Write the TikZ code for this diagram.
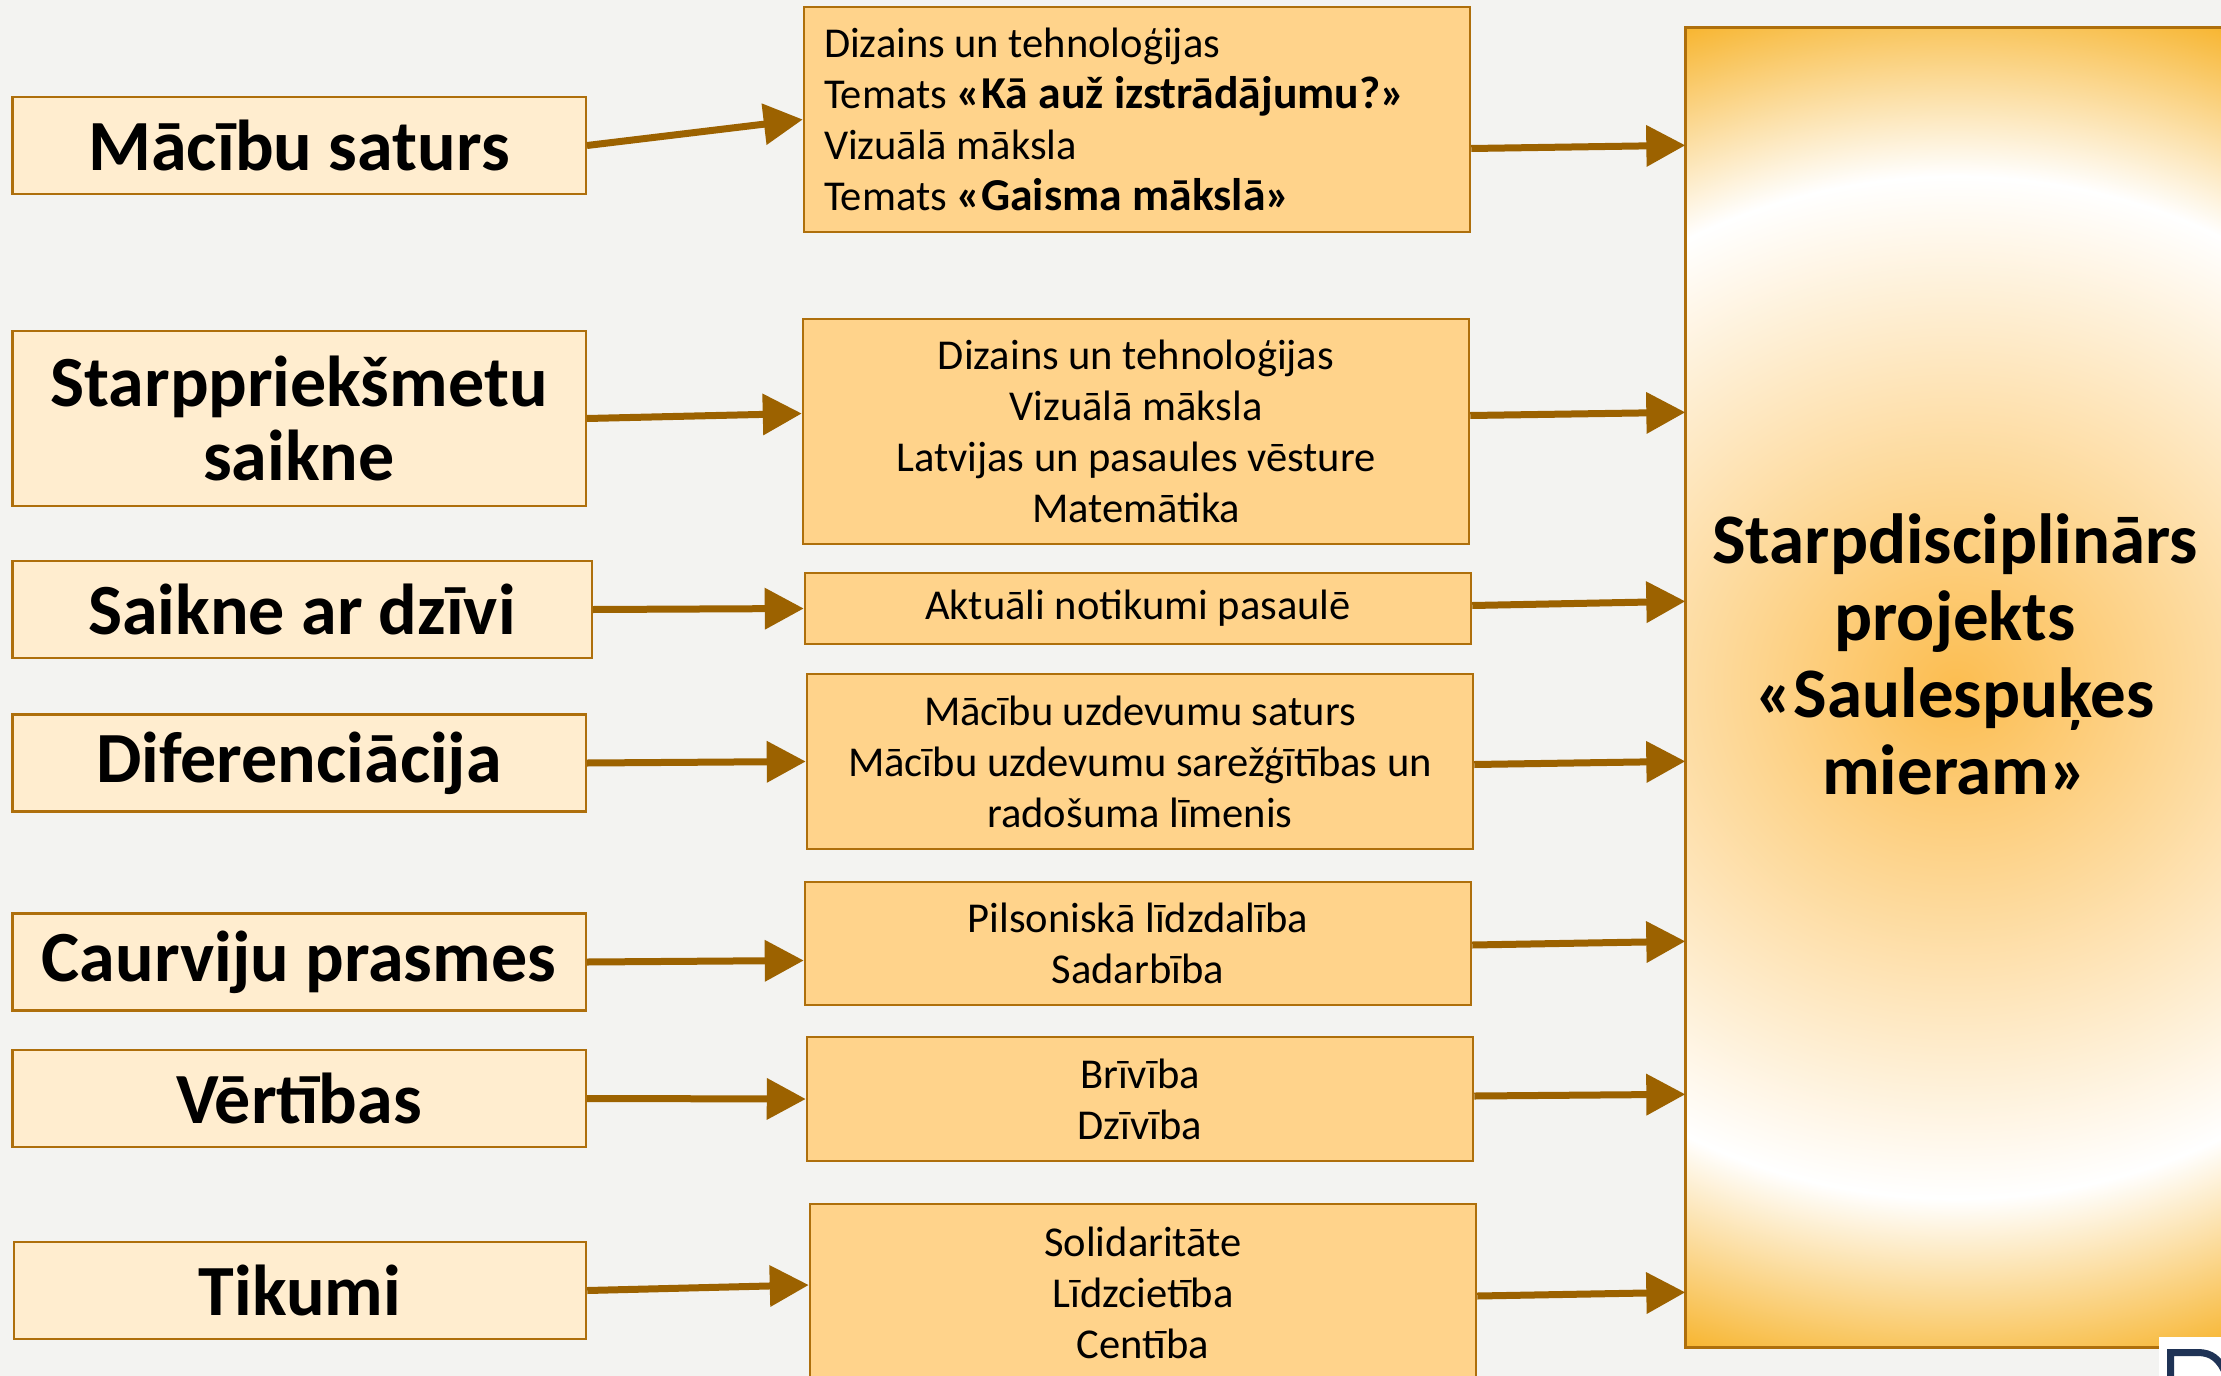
\documentclass[tikz,border=0pt]{standalone}
\usepackage{fontspec}
\setmainfont{Carlito}
\usetikzlibrary{arrows.meta,calc}
\definecolor{bg}{HTML}{F3F3F1}
\definecolor{lfill}{HTML}{FFEDCF}
\definecolor{mfill}{HTML}{FFD38B}
\definecolor{bord}{HTML}{AE6F0C}
\definecolor{arrc}{HTML}{9C6200}
\definecolor{gcen}{HTML}{FCBD50}
\definecolor{gout}{HTML}{F7B32A}
\definecolor{navy}{HTML}{1F3356}
\pgfdeclareradialshading{glow}{\pgfpoint{0bp}{0bp}}{color(0bp)=(gcen); color(18bp)=(white); color(25bp)=(gout); color(50bp)=(gout)}
\newcommand{\lblfont}{\fontsize{20.5pt}{21.3pt}\selectfont\bfseries}
\newcommand{\midfont}{\fontsize{12.1pt}{14.5pt}\selectfont}
\newcommand{\midbold}{\fontsize{13pt}{14.5pt}\selectfont\bfseries}
\newcommand{\bigfont}{\fontsize{20.2pt}{21.9pt}\selectfont\bfseries}
\begin{document}
\begin{tikzpicture}[x=0.1mm,y=-0.1mm,
  lbox/.style={draw=bord, line width=0.25mm, fill=lfill, minimum width=57.35mm, minimum height=9.7mm, inner sep=0pt, align=center, font=\lblfont},
  mbox/.style={draw=bord, line width=0.25mm, fill=mfill, minimum width=66.6mm, inner sep=0pt, align=center, font=\midfont},
  arr/.style={draw=arrc, line width=0.7mm, -{Triangle[length=3.9mm,width=4mm]}}]
\fill[bg] (0,0) rectangle (2221,1376);
\useasboundingbox (0,0) rectangle (2221,1376);
\clip (0,0) rectangle (2221,1376);

% big target box
\node[minimum width=54mm, minimum height=131.9mm, inner sep=0pt] (big) at (1956,687.5) {};
\begin{scope}
  \clip (big.south west) rectangle (big.north east);
  \shade[shading=glow] (1956,687.5) ellipse [x radius=78mm, y radius=71mm];
\end{scope}
\draw[bord, line width=0.3mm] (big.south west) rectangle (big.north east);
\node[font=\bigfont, align=center, inner sep=0pt] (bigtxt) at (1955,654) {Starpdisciplinārs\\projekts\\«Saulespuķes\\mieram»};

% left boxes
\node[lbox] (l1) at (299,145.5) {Mācību saturs};
\node[lbox, minimum height=17.5mm] (l2) at (299,418.5) {Starppriekšmetu\\saikne};
\node[lbox, minimum width=57.95mm] (l3) at (302,609.5) {Saikne ar dzīvi};
\node[lbox] (l4) at (299,763) {Diferenciācija};
\node[lbox] (l5) at (299,962) {Caurviju prasmes};
\node[lbox] (l6) at (299,1098.5) {Vērtības};
\node[lbox, minimum width=57.2mm] (l7) at (300,1290.5) {Tikumi};

% middle boxes
\node[mbox, minimum height=22.5mm, text width=62.6mm, inner xsep=2mm, align=flush left] (m1) at (1137,119.5)
  {Dizains un tehnoloģijas\\Temats {\midbold«Kā auž izstrādājumu?»}\\Vizuālā māksla\\Temats {\midbold«Gaisma mākslā»}};
\node[mbox, minimum height=22.5mm] (m2) at (1136,431.5)
  {Dizains un tehnoloģijas\\Vizuālā māksla\\Latvijas un pasaules vēsture\\Matemātika};
\node[mbox, minimum height=7.1mm] (m3) at (1138,608.5) {Aktuāli notikumi pasaulē};
\node[mbox, minimum height=17.5mm] (m4) at (1140,761.5)
  {Mācību uzdevumu saturs\\Mācību uzdevumu sarežģītības un\\radošuma līmenis};
\node[mbox, minimum height=12.3mm] (m5) at (1138,943.5) {Pilsoniskā līdzdalība\\Sadarbība};
\node[mbox, minimum height=12.4mm] (m6) at (1140,1099) {Brīvība\\Dzīvība};
\node[mbox, minimum height=17.8mm] (m7) at (1143,1293) {Solidaritāte\\Līdzcietība\\Centība};

% arrows left -> middle
\draw[arr] (l1.east) -- (m1.west);
\draw[arr] (l2.east) -- ($(m2.west)+(0,-18)$);
\draw[arr] (l3.east) -- (m3.west);
\draw[arr] (l4.east) -- (m4.west);
\draw[arr] (l5.east) -- ($(m5.west)+(0,17)$);
\draw[arr] (l6.east) -- (m6.west);
\draw[arr] (l7.east) -- ($(m7.west)+(0,-8)$);

% arrows middle -> big
\draw[arr] ($(m1.east)+(0,29)$) -- ($(big.north west)+(0,118)$);
\draw[arr] ($(m2.east)+(0,-16)$) -- ($(big.north west)+(0,385)$);
\draw[arr] ($(m3.east)+(0,-3)$) -- ($(big.north west)+(0,574)$);
\draw[arr] ($(m4.east)+(0,3)$) -- ($(big.north west)+(0,734)$);
\draw[arr] ($(m5.east)+(0,1.5)$) -- ($(big.north west)+(0,914)$);
\draw[arr] ($(m6.east)+(0,-3)$) -- ($(big.north west)+(0,1067)$);
\draw[arr] ($(m7.east)+(0,3)$) -- ($(big.north west)+(0,1265)$);

% cropped logo corner
\fill[white] (2159,1337) rectangle (2230,1380);
\draw[navy, line width=0.7mm] (2170.5,1380) -- (2170.5,1352.5) -- (2198,1352.5) .. controls (2212,1352.5) and (2219,1360) .. (2224,1370);
\end{tikzpicture}
\end{document}
